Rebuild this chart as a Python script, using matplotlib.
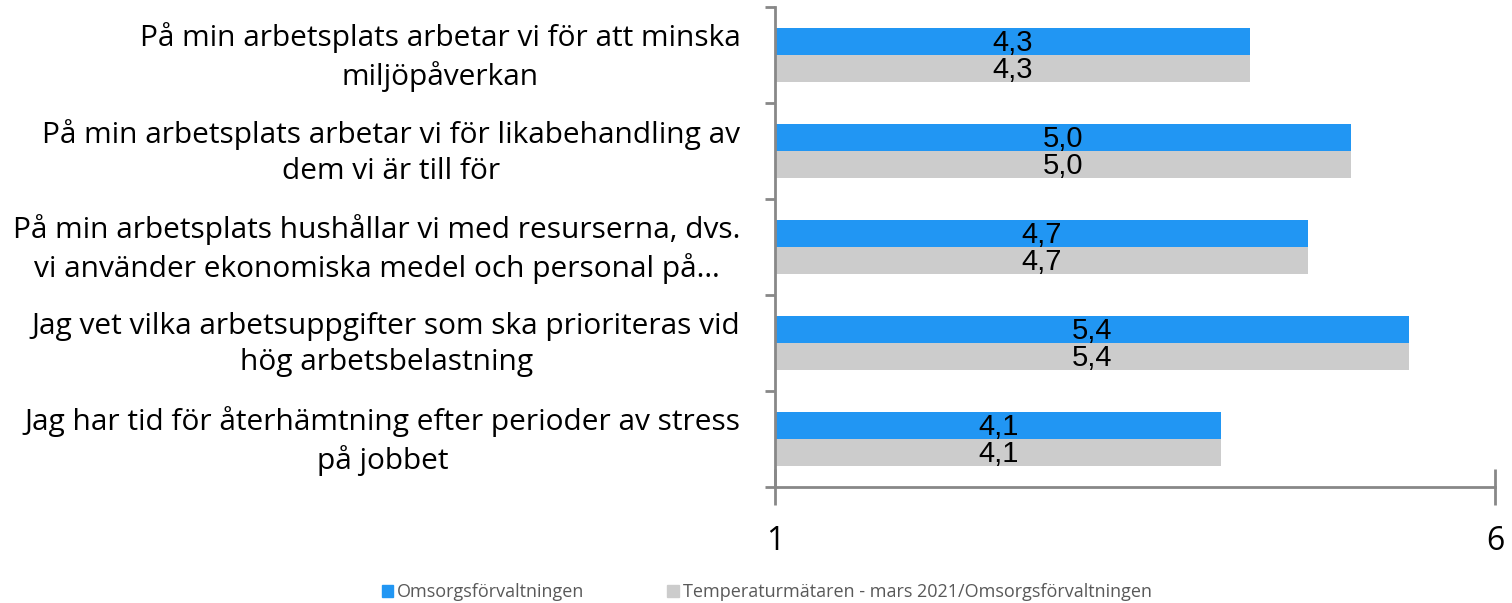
import numpy as np
import matplotlib.pyplot as plt
from matplotlib.patches import Patch

categories = [
    "På min arbetsplats arbetar vi för att minska\nmiljöpåverkan",
    "På min arbetsplats arbetar vi för likabehandling av\ndem vi är till för",
    "På min arbetsplats hushållar vi med resurserna, dvs.\nvi använder ekonomiska medel och personal på…",
    "Jag vet vilka arbetsuppgifter som ska prioriteras vid\nhög arbetsbelastning",
    "Jag har tid för återhämtning efter perioder av stress\npå jobbet",
]
omsorg = [4.3, 5.0, 4.7, 5.4, 4.1]
temperatur = [4.3, 5.0, 4.7, 5.4, 4.1]
series_names = ["Omsorgsförvaltningen", "Temperaturmätaren - mars 2021/Omsorgsförvaltningen"]
colors = ["#2196F3", "#CCCCCC"]

fig = plt.figure(figsize=(15.12, 6.03), dpi=100)
ax = fig.add_axes([775 / 1512, 1 - 487 / 603, 720 / 1512, 480 / 603])

y = np.arange(len(categories))
h = 0.28
b1 = ax.barh(y - h / 2, np.array(omsorg) - 1, height=h, left=1, color=colors[0])
b2 = ax.barh(y + h / 2, np.array(temperatur) - 1, height=h, left=1, color=colors[1])

for bars, vals in [(b1, omsorg), (b2, temperatur)]:
    for rect, v in zip(bars, vals):
        ax.text(1 + (v - 1) / 2, rect.get_y() + rect.get_height() / 2 + 0.02,
                f"{v:.1f}".replace(".", ","), ha="center", va="center",
                fontsize=21, family="Liberation Sans", color="black")

ax.set_xlim(1, 6)
ax.set_ylim(len(categories) - 0.5, -0.5)
ax.set_xticks([1, 6])
ax.set_xticklabels(["1", "6"], fontsize=23, family="Open Sans")
ax.tick_params(axis="x", direction="inout", length=26, width=2, color="#888888", pad=14)

ax.set_yticks(np.arange(-0.5, len(categories), 1), minor=False)
ax.set_yticklabels([])
ax.tick_params(axis="y", direction="out", length=7, width=2, color="#888888")
for i, lab in enumerate(categories):
    ax.text(-0.048, i + 0.02, lab, transform=ax.get_yaxis_transform(), ha="right", va="center",
            multialignment="center", fontsize=21.5, family="Open Sans", linespacing=1.32)

for s in ["top", "right"]:
    ax.spines[s].set_visible(False)
for s in ["left", "bottom"]:
    ax.spines[s].set_color("#888888")
    ax.spines[s].set_linewidth(2)

handles = [Patch(color=c) for c in colors]
fig.legend(handles, series_names, loc="center", bbox_to_anchor=(0.507, 0.018), ncol=2,
           frameon=False, prop={"family": "Open Sans", "size": 13}, labelcolor="#595959",
           handlelength=0.65, handleheight=0.65, handletextpad=0.2, columnspacing=4.6)

fig.savefig("out.png", dpi=100)
